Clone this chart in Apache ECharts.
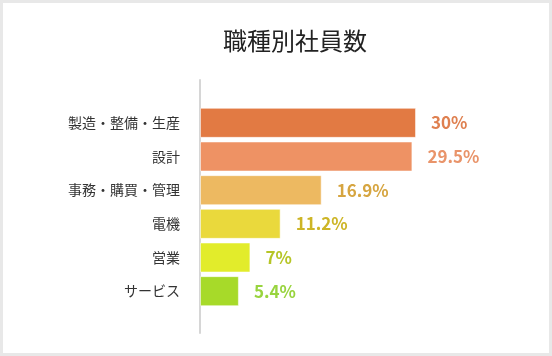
<!DOCTYPE html>
<html>
<head>
<meta charset="utf-8">
<script src="https://cdn.jsdelivr.net/npm/echarts@6/dist/echarts.min.js"></script>
<style>
html,body{margin:0;padding:0;background:#e8e8e8;width:552px;height:356px;overflow:hidden;}
#chart{position:absolute;left:3px;top:3px;width:546px;height:350px;background:#fff;}
</style>
</head>
<body>
<div id="chart"></div>
<script>
const titleText = '職種別社員数';
const categories = ['製造・整備・生産', '設計', '事務・購買・管理', '電機', '営業', 'サービス'];
const values = [30, 29.5, 16.9, 11.2, 7, 5.4];
const barColors = ['#E27A43', '#EE9264', '#EDB961', '#EAD93C', '#E2EC2B', '#A7DA29'];
const labelColors = ['#DF8050', '#E9946A', '#D6A540', '#CDB526', '#B6C526', '#98D43E'];

const chart = echarts.init(document.getElementById('chart'), null, {renderer: 'canvas'});
const font = '"Noto Sans CJK JP", "Noto Sans", sans-serif';

chart.setOption({
  animation: false,
  title: {
    text: titleText,
    left: 220,
    top: 26,
    padding: 0,
    textStyle: {fontFamily: font, fontSize: 24, fontWeight: 'normal', color: '#222'}
  },
  grid: [
    {left: 197, right: 61, top: 103, height: 202, containLabel: false},
    {left: 197, right: 61, top: 77, height: 253, containLabel: false}
  ],
  xAxis: [
    {type: 'value', gridIndex: 0, min: 0, max: 40, show: false},
    {type: 'value', gridIndex: 1, min: 0, max: 40, show: false}
  ],
  yAxis: [
    {
      type: 'category', gridIndex: 0, data: categories, inverse: true,
      axisLine: {show: false}, axisTick: {show: false}, splitLine: {show: false},
      axisLabel: {margin: 20, fontFamily: font, fontSize: 14, color: '#333'}
    },
    {
      type: 'category', gridIndex: 1, data: [''],
      axisLine: {show: true, lineStyle: {color: '#d6d6d6', width: 2}},
      axisTick: {show: false}, axisLabel: {show: false}, splitLine: {show: false}
    }
  ],
  series: [{
    type: 'bar',
    xAxisIndex: 0, yAxisIndex: 0,
    barWidth: 30,
    data: values.map((v, i) => ({
      value: v,
      itemStyle: {color: barColors[i], borderColor: 'rgba(255,255,255,0.5)', borderWidth: 1},
      label: {color: labelColors[i]}
    })),
    label: {
      show: true, position: 'right', distance: 15,
      formatter: p => p.value + '%',
      fontFamily: font, fontSize: 17, fontWeight: 'bold'
    }
  }]
});
</script>
</body>
</html>
